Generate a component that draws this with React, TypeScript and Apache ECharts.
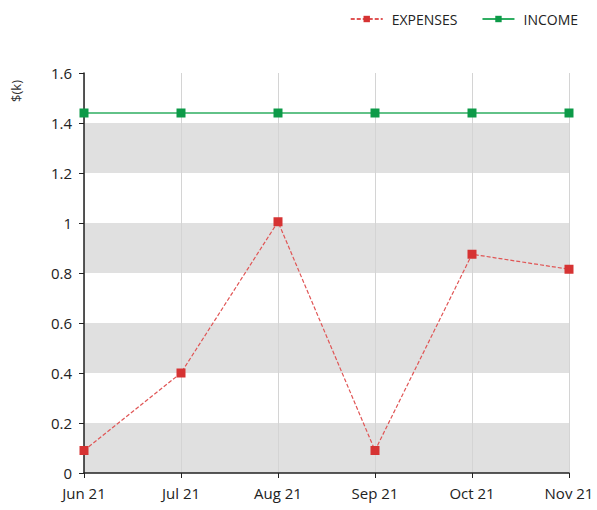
import React, { useEffect, useRef } from "react";
import * as echarts from "echarts";

const categories = ["Jun 21", "Jul 21", "Aug 21", "Sep 21", "Oct 21", "Nov 21"];
const expenses = [0.09, 0.4, 1.005, 0.09, 0.875, 0.815];
const income = [1.44, 1.44, 1.44, 1.44, 1.44, 1.44];

const FONT = "'Open Sans', 'Noto Sans', sans-serif";

export default function App() {
  const ref = useRef<HTMLDivElement>(null);
  useEffect(() => {
    const chart = echarts.init(ref.current!, null, { renderer: "svg" });
    chart.setOption({
      animation: false,
      textStyle: { fontFamily: FONT },
      legend: {
        top: 7,
        right: 14,
        itemWidth: 32,
        itemHeight: 8,
        itemGap: 24,
        textStyle: { fontFamily: FONT, fontSize: 14, color: "#222", padding: [0, 0, 0, 4] },
        data: ["EXPENSES", "INCOME"],
      },
      grid: { left: 84, right: 28, top: 73, bottom: 37, containLabel: false },
      graphic: [
        {
          type: "text",
          left: 9,
          top: 80,
          rotation: Math.PI / 2,
          style: { text: "$(k)", fontFamily: FONT, fontSize: 13, fill: "#333" },
        },
      ],
      xAxis: {
        type: "category",
        data: categories,
        boundaryGap: false,
        axisLine: { lineStyle: { color: "#222", width: 1.5 } },
        axisTick: { show: true, alignWithLabel: true, length: 5, lineStyle: { color: "#222" } },
        axisLabel: { color: "#222", fontSize: 15, fontFamily: FONT, margin: 12 },
        splitLine: { show: true, lineStyle: { color: "#d4d4d4", width: 1 } },
      },
      yAxis: {
        type: "value",
        min: 0,
        max: 1.6,
        interval: 0.2,
        axisLine: { show: true, lineStyle: { color: "#222", width: 1.5 } },
        axisTick: { show: true, length: 5, lineStyle: { color: "#222" } },
        axisLabel: {
          color: "#222",
          fontSize: 15,
          fontFamily: FONT,
          margin: 12,
          formatter: (v: number) => String(Math.round(v * 10) / 10),
        },
        splitLine: { show: false },
        splitArea: { show: true, areaStyle: { color: ["#e0e0e0", "#ffffff"] } },
      },
      series: [
        {
          name: "EXPENSES",
          type: "line",
          data: expenses,
          symbol: "rect",
          symbolSize: 9,
          itemStyle: { color: "#d63333" },
          lineStyle: { color: "#e05555", width: 1.2, type: [4, 2] },
        },
        {
          name: "INCOME",
          type: "line",
          data: income,
          symbol: "rect",
          symbolSize: 9,
          itemStyle: { color: "#0d9a48" },
          lineStyle: { color: "#2fae62", width: 1.5 },
        },
      ],
    });
    return () => chart.dispose();
  }, []);
  return <div ref={ref} style={{ width: 597, height: 510, position: "absolute", left: 0, top: 0 }} />;
}
